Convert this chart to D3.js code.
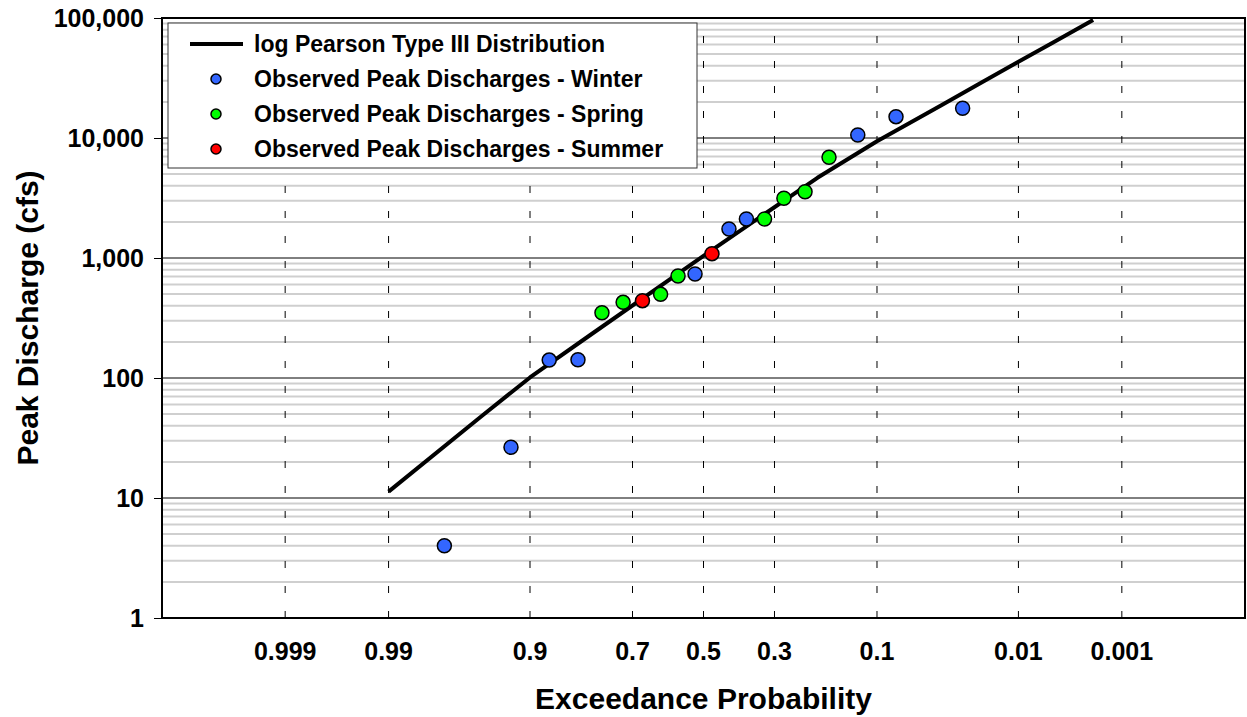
<!DOCTYPE html>
<html>
<head>
<meta charset="utf-8">
<script src="https://cdn.jsdelivr.net/npm/d3@7"></script>
<style>
  html, body { margin: 0; padding: 0; background: #fff; }
  svg { display: block; }
  text { font-family: Arial, "Liberation Sans", sans-serif; font-weight: bold; fill: #000; }
</style>
</head>
<body>
<svg id="chart" width="1247" height="717"></svg>
<script>
// Exceedance-probability axis ticks and their labels
const probTicks = [0.999, 0.99, 0.9, 0.7, 0.5, 0.3, 0.1, 0.01, 0.001];
const probLabels = ["0.999", "0.99", "0.9", "0.7", "0.5", "0.3", "0.1", "0.01", "0.001"];

// Discharge axis (log) ticks and labels
const qTicks = [1, 10, 100, 1000, 10000, 100000];
const qLabels = ["1", "10", "100", "1,000", "10,000", "100,000"];

// Fitted log Pearson Type III frequency curve
const lp3Prob = [0.99, 0.95, 0.9, 0.8, 0.5, 0.2, 0.1, 0.04, 0.02, 0.01, 0.005, 0.002];
const lp3Flow = [11.3, 47.6, 101, 226, 1041, 4660, 9400, 18600, 28950, 43150, 62000, 96400];

// Observed annual peaks, by season (plotting position, discharge in cfs)
const winterProb = [0.0278, 0.0775, 0.1272, 0.3757, 0.4254, 0.5249, 0.8231, 0.8728, 0.9225, 0.9722];
const winterFlow = [17700, 15050, 10590, 2113, 1745, 736, 142, 141, 26.5, 4.0];
const springProb = [0.1769, 0.2266, 0.2763, 0.3260, 0.5746, 0.6243, 0.7237, 0.7734];
const springFlow = [6905, 3568, 3145, 2113, 708, 498, 427, 350];
const summerProb = [0.4751, 0.6740];
const summerFlow = [1086, 441];

const seasonColors = { winter: "#3366ff", spring: "#00ff00", summer: "#ff0000" };

// Inverse standard normal CDF (Acklam's rational approximation)
function normInv(p) {
  const a = [-3.969683028665376e+01, 2.209460984245205e+02, -2.759285104469687e+02,
             1.383577518672690e+02, -3.066479806614716e+01, 2.506628277459239e+00];
  const b = [-5.447609879822406e+01, 1.615858368580409e+02, -1.556989798598866e+02,
             6.680131188771972e+01, -1.328068155288572e+01];
  const c = [-7.784894002430293e-03, -3.223964580411365e-01, -2.400758277161838e+00,
             -2.549732539343734e+00, 4.374664141464968e+00, 2.938163982698783e+00];
  const d = [7.784695709041462e-03, 3.224671290700398e-01, 2.445134137142996e+00,
             3.754408661907416e+00];
  const pl = 0.02425, ph = 1 - pl;
  let q, r;
  if (p < pl) {
    q = Math.sqrt(-2 * Math.log(p));
    return (((((c[0]*q+c[1])*q+c[2])*q+c[3])*q+c[4])*q+c[5]) /
           ((((d[0]*q+d[1])*q+d[2])*q+d[3])*q+1);
  } else if (p <= ph) {
    q = p - 0.5; r = q * q;
    return (((((a[0]*r+a[1])*r+a[2])*r+a[3])*r+a[4])*r+a[5])*q /
           (((((b[0]*r+b[1])*r+b[2])*r+b[3])*r+b[4])*r+1);
  } else {
    q = Math.sqrt(-2 * Math.log(1 - p));
    return -(((((c[0]*q+c[1])*q+c[2])*q+c[3])*q+c[4])*q+c[5]) /
            ((((d[0]*q+d[1])*q+d[2])*q+d[3])*q+1);
  }
}

const svg = d3.select("#chart");
const plot = { left: 162, right: 1245, top: 18, bottom: 618 };

// Normal-probability x scale: standard normal deviate of non-exceedance
const zScale = d3.scaleLinear().domain([-4, 4]).range([plot.left, plot.right]);
const x = p => zScale(normInv(1 - p));
const y = d3.scaleLog().domain([1, 100000]).range([plot.bottom, plot.top]);

const g = svg.append("g");

// Minor horizontal grid (2..9 within each decade)
const minor = [];
for (let dec = 1; dec < 100000; dec *= 10) {
  for (let k = 2; k <= 9; k++) minor.push(dec * k);
}
g.append("g").selectAll("line").data(minor).join("line")
  .attr("x1", plot.left).attr("x2", plot.right)
  .attr("y1", d => y(d)).attr("y2", d => y(d))
  .attr("stroke", "#cfcfcf").attr("stroke-width", 2);

// Major horizontal grid
g.append("g").selectAll("line").data(qTicks).join("line")
  .attr("x1", plot.left).attr("x2", plot.right)
  .attr("y1", d => y(d)).attr("y2", d => y(d))
  .attr("stroke", "#000").attr("stroke-width", 1);

// Dashed vertical grid at each probability tick (drawn bottom-up)
g.append("g").selectAll("line").data(probTicks).join("line")
  .attr("x1", d => x(d)).attr("x2", d => x(d))
  .attr("y1", plot.bottom).attr("y2", plot.top)
  .attr("stroke", "#000").attr("stroke-width", 1)
  .attr("stroke-dasharray", "7,18");

// Plot frame
g.append("rect")
  .attr("x", plot.left).attr("y", plot.top)
  .attr("width", plot.right - plot.left).attr("height", plot.bottom - plot.top)
  .attr("fill", "none").attr("stroke", "#000").attr("stroke-width", 2);

// Y axis (log) with formatted labels
const yAxis = d3.axisLeft(y).tickValues(qTicks)
  .tickFormat((d, i) => qLabels[i]).tickSize(8).tickPadding(10);
const yAx = svg.append("g").attr("transform", `translate(${plot.left},0)`).call(yAxis);
yAx.select(".domain").remove();
yAx.selectAll(".tick line").attr("stroke", "#000");
yAx.selectAll(".tick text").style("font-size", "25px").attr("font-family", null).attr("fill", "#000");

// X axis (probability) with labels below the frame
const xAx = svg.append("g").attr("transform", `translate(0,${plot.bottom})`);
xAx.selectAll("text").data(probTicks).join("text")
  .attr("x", d => x(d)).attr("y", 42)
  .attr("text-anchor", "middle")
  .style("font-size", "25px")
  .text((d, i) => probLabels[i]);

// Axis titles
svg.append("text")
  .attr("transform", `translate(38,${(plot.top + plot.bottom) / 2}) rotate(-90)`)
  .attr("text-anchor", "middle")
  .style("font-size", "30px")
  .text("Peak Discharge (cfs)");
svg.append("text")
  .attr("x", (plot.left + plot.right) / 2).attr("y", 709)
  .attr("text-anchor", "middle")
  .style("font-size", "30px")
  .text("Exceedance Probability");

// Clip marks to the plot area
svg.append("clipPath").attr("id", "plotClip").append("rect")
  .attr("x", plot.left).attr("y", plot.top)
  .attr("width", plot.right - plot.left).attr("height", plot.bottom - plot.top);

const marks = svg.append("g").attr("clip-path", "url(#plotClip)");

// LP3 curve
const lp3 = lp3Prob.map((p, i) => [p, lp3Flow[i]]);
marks.append("path")
  .datum(lp3)
  .attr("d", d3.line().x(d => x(d[0])).y(d => y(d[1])))
  .attr("fill", "none").attr("stroke", "#000").attr("stroke-width", 4)
  .attr("stroke-linejoin", "round");

// Observed peaks
function drawSeason(probs, flows, color) {
  marks.append("g").selectAll("circle")
    .data(probs.map((p, i) => [p, flows[i]]))
    .join("circle")
    .attr("cx", d => x(d[0])).attr("cy", d => y(d[1]))
    .attr("r", 7)
    .attr("fill", color).attr("stroke", "#000").attr("stroke-width", 1.5);
}
drawSeason(winterProb, winterFlow, seasonColors.winter);
drawSeason(springProb, springFlow, seasonColors.spring);
drawSeason(summerProb, summerFlow, seasonColors.summer);

// Legend
const legend = svg.append("g");
legend.append("rect")
  .attr("x", 168).attr("y", 23).attr("width", 529).attr("height", 145)
  .attr("fill", "#fff").attr("stroke", "#333").attr("stroke-width", 1);

const legendItems = [
  { label: "log Pearson Type III Distribution", type: "line" },
  { label: "Observed Peak Discharges - Winter", type: "dot", color: seasonColors.winter },
  { label: "Observed Peak Discharges - Spring", type: "dot", color: seasonColors.spring },
  { label: "Observed Peak Discharges - Summer", type: "dot", color: seasonColors.summer }
];
const rowY = d3.scalePoint().domain(d3.range(legendItems.length)).range([44, 149]);
const rows = legend.selectAll("g.item").data(legendItems).join("g")
  .attr("class", "item")
  .attr("transform", (d, i) => `translate(0,${rowY(i)})`);
rows.filter(d => d.type === "line").append("line")
  .attr("x1", 190).attr("x2", 243).attr("y1", 0).attr("y2", 0)
  .attr("stroke", "#000").attr("stroke-width", 4);
rows.filter(d => d.type === "dot").append("circle")
  .attr("cx", 216).attr("cy", 0).attr("r", 5)
  .attr("fill", d => d.color).attr("stroke", "#000").attr("stroke-width", 1.5);
rows.append("text")
  .attr("x", 254).attr("y", 0).attr("dy", "0.36em")
  .style("font-size", "23px")
  .text(d => d.label);
</script>
</body>
</html>
